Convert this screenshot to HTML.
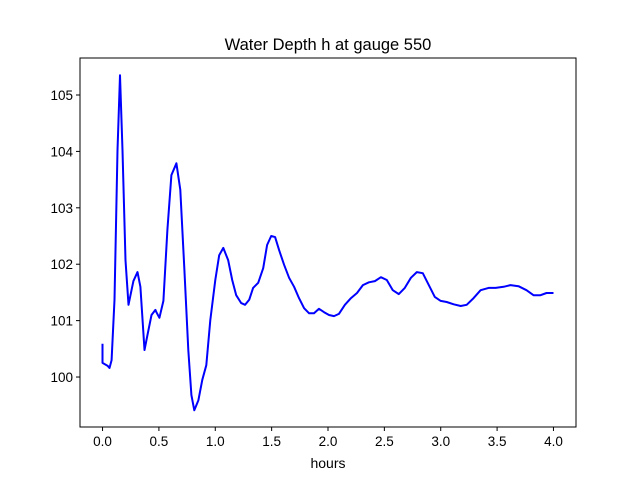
<!DOCTYPE html>
<html><head><meta charset="utf-8"><style>
body{margin:0;background:#fff;}
svg{display:block;font-family:"Liberation Sans","DejaVu Sans",sans-serif;}
</style></head><body>
<svg id="chart" width="640" height="480" viewBox="0 0 640 480">
<rect width="640" height="480" fill="#fff"/>
<text x="328" y="50" text-anchor="middle" font-size="16.5">Water Depth h at gauge 550</text>
<text x="328" y="468" text-anchor="middle" font-size="14">hours</text>
<g id="ticks"></g>
<path id="line" fill="none" stroke="#0000ff" stroke-width="2" stroke-linejoin="round"/>
<rect x="80" y="58" width="496" height="369" fill="none" stroke="#000" stroke-width="1"/>
</svg>
<script>
const times=[0,0,0.044,0.062,0.080,0.106,0.133,0.155,0.177,0.204,0.230,0.274,0.310,0.336,0.372,0.398,0.434,0.469,0.478,0.504,0.540,0.575,0.611,0.655,0.690,0.726,0.761,0.788,0.814,0.850,0.885,0.920,0.956,1.000,1.035,1.071,1.115,1.150,1.186,1.230,1.265,1.301,1.336,1.381,1.425,1.460,1.496,1.531,1.566,1.611,1.655,1.699,1.743,1.788,1.832,1.876,1.920,1.965,2.009,2.053,2.097,2.150,2.204,2.257,2.310,2.363,2.416,2.469,2.522,2.575,2.628,2.681,2.735,2.788,2.841,2.894,2.947,3.000,3.053,3.115,3.177,3.230,3.292,3.354,3.425,3.487,3.558,3.619,3.690,3.761,3.823,3.885,3.938,4.000];
const depths=[100.59,100.25,100.20,100.16,100.30,101.37,104.02,105.35,104.02,102.07,101.28,101.70,101.86,101.60,100.48,100.74,101.10,101.19,101.15,101.05,101.35,102.61,103.58,103.79,103.32,101.90,100.48,99.68,99.41,99.59,99.95,100.21,101.01,101.72,102.16,102.29,102.07,101.72,101.45,101.31,101.28,101.37,101.58,101.67,101.93,102.34,102.50,102.48,102.25,101.99,101.76,101.60,101.40,101.22,101.13,101.13,101.21,101.15,101.10,101.08,101.12,101.28,101.40,101.49,101.63,101.68,101.70,101.77,101.72,101.54,101.47,101.58,101.76,101.86,101.84,101.63,101.42,101.35,101.33,101.29,101.26,101.28,101.40,101.54,101.58,101.58,101.60,101.63,101.61,101.54,101.45,101.45,101.49,101.49];
const xTicks=[0,0.5,1,1.5,2,2.5,3,3.5,4];
const xTickLabels=["0.0","0.5","1.0","1.5","2.0","2.5","3.0","3.5","4.0"];
const yTicks=[100,101,102,103,104,105];
const yTickLabels=["100","101","102","103","104","105"];
const X0=80,X1=576,Y0=58,Y1=427,xmin=-0.2,xmax=4.2,ymin=99.114,ymax=105.656;
function sx(v){return X0+(v-xmin)/(xmax-xmin)*(X1-X0);}
function sy(v){return Y1-(v-ymin)/(ymax-ymin)*(Y1-Y0);}
const NS="http://www.w3.org/2000/svg",g=document.getElementById('ticks');
xTicks.forEach((v,i)=>{
 const l=document.createElementNS(NS,'line');
 
 
 l.setAttribute('x1',sx(v));l.setAttribute('x2',sx(v));l.setAttribute('y1',Y1);l.setAttribute('y2',Y1+4);l.setAttribute('stroke','#000');g.appendChild(l);
 const t=document.createElementNS(NS,'text');
 
 
 t.setAttribute('x',sx(v));t.setAttribute('y',Y1+19);t.setAttribute('text-anchor','middle');t.setAttribute('font-size','13.5');t.textContent=xTickLabels[i];g.appendChild(t);
});
yTicks.forEach((v,i)=>{
 const l=document.createElementNS(NS,'line');
 
 
 l.setAttribute('x1',X0-4);l.setAttribute('x2',X0);l.setAttribute('y1',sy(v));l.setAttribute('y2',sy(v));l.setAttribute('stroke','#000');g.appendChild(l);
 const t=document.createElementNS(NS,'text');
 
 
 t.setAttribute('x',X0-7);t.setAttribute('y',sy(v)+5);t.setAttribute('text-anchor','end');t.setAttribute('font-size','13.5');t.textContent=yTickLabels[i];g.appendChild(t);
});
let d='';
times.forEach((t,i)=>{d+=(i?'L':'M')+sx(t).toFixed(1)+','+sy(depths[i]).toFixed(1);});
document.getElementById('line').setAttribute('d',d);
</script>
</body></html>
